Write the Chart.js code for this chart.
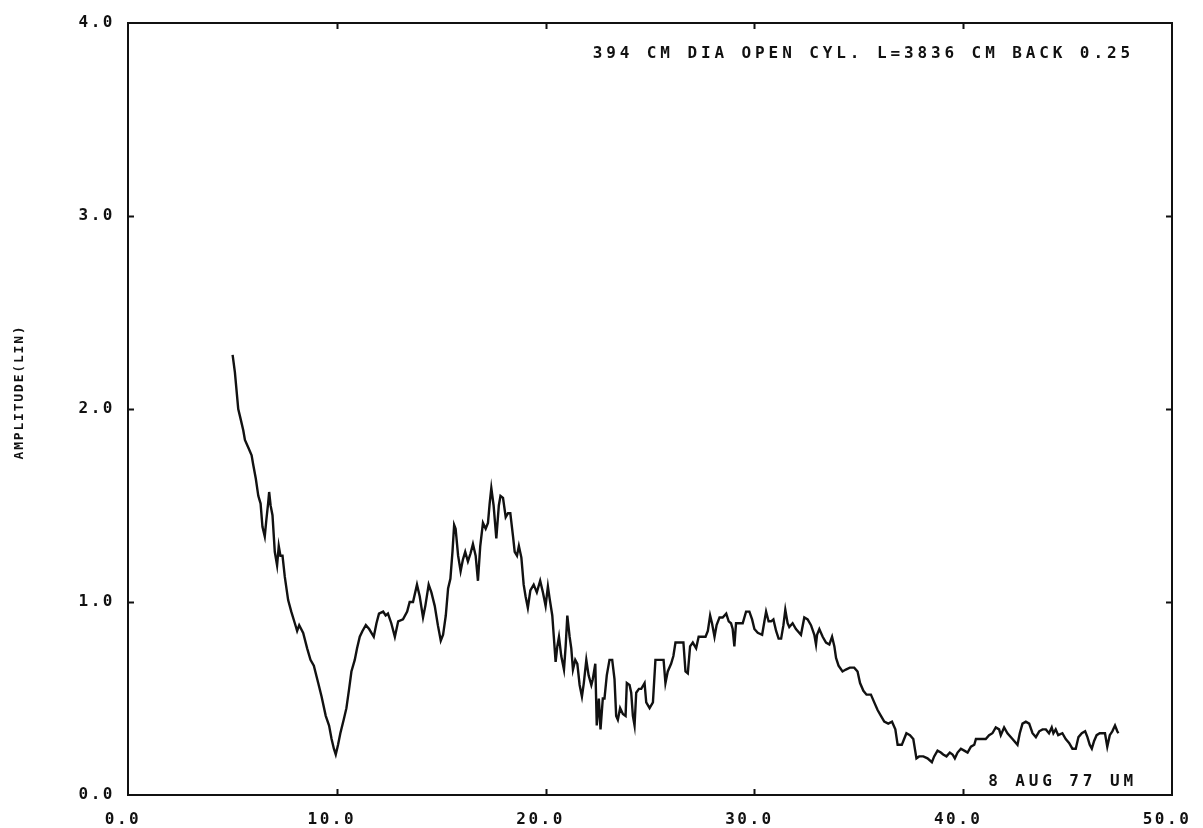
<!DOCTYPE html>
<html>
<head>
<meta charset="utf-8">
<title>Amplitude (lin)</title>
<script src="https://cdn.jsdelivr.net/npm/chart.js@4/dist/chart.umd.min.js"></script>
<style>
  html, body { margin: 0; padding: 0; background: #fff; }
  #wrap { position: relative; width: 1203px; height: 828px; }
</style>
</head>
<body>
<div id="wrap"><canvas id="ampChart"></canvas></div>
<script>
/* global Chart */

// ---------------------------------------------------------------------------
// Data
// ---------------------------------------------------------------------------

const X_TICKS = [0, 10, 20, 30, 40, 50];
const Y_TICKS = [0, 1, 2, 3, 4];

const NOTE_TOP    = '394 CM DIA OPEN CYL. L=3836 CM BACK 0.25';
const NOTE_BOTTOM = '8 AUG 77 UM';
const Y_LABEL     = 'AMPLITUDE(LIN)';

const distance = [
    5.01, 5.12, 5.28, 5.39, 5.52, 5.60, 5.76, 5.92, 6.00, 6.12,
    6.24, 6.35, 6.44, 6.55, 6.63, 6.71, 6.76, 6.83, 6.92, 7.03,
    7.14, 7.22, 7.30, 7.40, 7.51, 7.67, 7.82, 7.99, 8.10, 8.20,
    8.39, 8.58, 8.74, 8.90, 9.11, 9.27, 9.47, 9.63, 9.75, 9.86,
    9.95, 10.06, 10.17, 10.33, 10.46, 10.59, 10.70, 10.86, 10.97, 11.10,
    11.23, 11.39, 11.55, 11.77, 11.90, 12.02, 12.22, 12.34, 12.45, 12.61,
    12.78, 12.94, 13.17, 13.37, 13.49, 13.65, 13.84, 13.97, 14.13, 14.24,
    14.40, 14.53, 14.69, 14.84, 14.98, 15.09, 15.22, 15.33, 15.44, 15.54,
    15.62, 15.69, 15.81, 15.93, 16.04, 16.15, 16.28, 16.40, 16.52, 16.65,
    16.76, 16.87, 17.00, 17.13, 17.24, 17.32, 17.40, 17.51, 17.64, 17.76,
    17.84, 17.96, 18.09, 18.20, 18.31, 18.44, 18.52, 18.63, 18.72, 18.84,
    18.95, 19.04, 19.15, 19.27, 19.43, 19.58, 19.74, 19.87, 20.00, 20.11,
    20.19, 20.32, 20.40, 20.48, 20.56, 20.64, 20.75, 20.88, 20.96, 21.04,
    21.15, 21.23, 21.31, 21.42, 21.52, 21.63, 21.74, 21.83, 21.95, 22.06,
    22.19, 22.26, 22.38, 22.45, 22.55, 22.63, 22.74, 22.82, 22.93, 23.06,
    23.19, 23.30, 23.38, 23.46, 23.57, 23.70, 23.83, 23.89, 24.02, 24.10,
    24.18, 24.26, 24.34, 24.47, 24.58, 24.74, 24.82, 24.98, 25.14, 25.26,
    25.45, 25.65, 25.74, 25.85, 26.01, 26.12, 26.22, 26.41, 26.60, 26.70,
    26.81, 26.92, 27.05, 27.21, 27.33, 27.50, 27.66, 27.77, 27.88, 27.97,
    28.09, 28.19, 28.33, 28.48, 28.65, 28.77, 28.88, 28.96, 29.04, 29.12,
    29.28, 29.44, 29.60, 29.76, 29.89, 30.00, 30.16, 30.37, 30.48, 30.56,
    30.68, 30.80, 30.91, 31.04, 31.16, 31.28, 31.39, 31.48, 31.59, 31.67,
    31.83, 31.99, 32.23, 32.39, 32.55, 32.71, 32.87, 32.95, 33.00, 33.11,
    33.27, 33.43, 33.59, 33.72, 33.83, 33.91, 34.03, 34.22, 34.38, 34.57,
    34.78, 34.94, 35.06, 35.22, 35.37, 35.58, 35.74, 35.90, 36.06, 36.22,
    36.41, 36.59, 36.75, 36.86, 37.06, 37.17, 37.28, 37.45, 37.61, 37.70,
    37.76, 37.89, 38.09, 38.29, 38.50, 38.61, 38.77, 38.93, 39.04, 39.20,
    39.36, 39.49, 39.60, 39.73, 39.89, 40.05, 40.21, 40.37, 40.53, 40.61,
    40.84, 41.08, 41.24, 41.40, 41.56, 41.72, 41.80, 41.96, 42.12, 42.36,
    42.60, 42.71, 42.84, 43.00, 43.16, 43.32, 43.48, 43.64, 43.80, 43.96,
    44.11, 44.24, 44.32, 44.43, 44.55, 44.75, 44.91, 45.07, 45.23, 45.39,
    45.52, 45.68, 45.84, 45.95, 46.06, 46.16, 46.27, 46.39, 46.54, 46.70,
    46.79, 46.90, 47.02, 47.14, 47.27, 47.38, 47.43,
];

const amplitude = [
    2.28, 2.19, 2.00, 1.95, 1.89, 1.84, 1.80, 1.76, 1.71, 1.64,
    1.55, 1.51, 1.39, 1.34, 1.43, 1.51, 1.57, 1.50, 1.45, 1.26,
    1.19, 1.29, 1.24, 1.24, 1.13, 1.01, 0.95, 0.89, 0.85, 0.88,
    0.84, 0.76, 0.70, 0.67, 0.58, 0.51, 0.41, 0.36, 0.29, 0.24,
    0.21, 0.26, 0.32, 0.39, 0.45, 0.55, 0.64, 0.70, 0.76, 0.82,
    0.85, 0.88, 0.86, 0.82, 0.89, 0.94, 0.95, 0.93, 0.94, 0.89,
    0.82, 0.90, 0.91, 0.95, 1.00, 1.00, 1.09, 1.03, 0.92, 0.98,
    1.09, 1.05, 0.98, 0.88, 0.80, 0.83, 0.93, 1.07, 1.12, 1.26,
    1.40, 1.38, 1.24, 1.16, 1.22, 1.26, 1.21, 1.25, 1.30, 1.24,
    1.11, 1.29, 1.41, 1.38, 1.41, 1.51, 1.59, 1.50, 1.33, 1.50,
    1.55, 1.54, 1.44, 1.46, 1.46, 1.34, 1.26, 1.24, 1.29, 1.23,
    1.09, 1.03, 0.97, 1.06, 1.09, 1.05, 1.11, 1.05, 0.98, 1.08,
    1.02, 0.93, 0.81, 0.69, 0.77, 0.82, 0.72, 0.65, 0.77, 0.93,
    0.82, 0.76, 0.65, 0.70, 0.68, 0.57, 0.51, 0.58, 0.70, 0.62,
    0.57, 0.60, 0.68, 0.36, 0.50, 0.34, 0.50, 0.50, 0.62, 0.70,
    0.70, 0.60, 0.41, 0.39, 0.45, 0.42, 0.41, 0.58, 0.57, 0.53,
    0.41, 0.36, 0.53, 0.55, 0.55, 0.58, 0.48, 0.45, 0.48, 0.70,
    0.70, 0.70, 0.58, 0.64, 0.68, 0.72, 0.79, 0.79, 0.79, 0.64,
    0.63, 0.77, 0.79, 0.76, 0.82, 0.82, 0.82, 0.85, 0.93, 0.89,
    0.82, 0.88, 0.92, 0.92, 0.94, 0.90, 0.89, 0.86, 0.77, 0.89,
    0.89, 0.89, 0.95, 0.95, 0.91, 0.86, 0.84, 0.83, 0.90, 0.95,
    0.90, 0.90, 0.91, 0.85, 0.81, 0.81, 0.88, 0.96, 0.89, 0.87,
    0.89, 0.86, 0.83, 0.92, 0.91, 0.88, 0.83, 0.78, 0.83, 0.86,
    0.82, 0.79, 0.78, 0.82, 0.77, 0.71, 0.67, 0.64, 0.65, 0.66,
    0.66, 0.64, 0.58, 0.54, 0.52, 0.52, 0.48, 0.44, 0.41, 0.38,
    0.37, 0.38, 0.34, 0.26, 0.26, 0.29, 0.32, 0.31, 0.29, 0.23,
    0.19, 0.20, 0.20, 0.19, 0.17, 0.20, 0.23, 0.22, 0.21, 0.20,
    0.22, 0.21, 0.19, 0.22, 0.24, 0.23, 0.22, 0.25, 0.26, 0.29,
    0.29, 0.29, 0.31, 0.32, 0.35, 0.34, 0.31, 0.35, 0.32, 0.29,
    0.26, 0.32, 0.37, 0.38, 0.37, 0.32, 0.30, 0.33, 0.34, 0.34,
    0.32, 0.35, 0.32, 0.34, 0.31, 0.32, 0.29, 0.27, 0.24, 0.24,
    0.30, 0.32, 0.33, 0.30, 0.26, 0.24, 0.28, 0.31, 0.32, 0.32,
    0.32, 0.25, 0.31, 0.33, 0.36, 0.33, 0.32,
];

// ---------------------------------------------------------------------------
// Style
// ---------------------------------------------------------------------------

const INK       = '#111';
const MONO      = '"DejaVu Sans Mono", "Liberation Mono", monospace';
const TICK_FONT = { family: MONO, size: 16, weight: 'bold' };

// ---------------------------------------------------------------------------
// Plugins: plotter-style frame with inward ticks, and free text
// ---------------------------------------------------------------------------

const plotterFrame = {
    id: 'plotterFrame',
    beforeDraw(chart) {
        chart.ctx.letterSpacing = '2.5px';
    },
    afterDraw(chart) {
        const { ctx, chartArea: a, scales } = chart;
        const len = 6;
        ctx.save();
        ctx.strokeStyle = INK;
        ctx.lineWidth = 2;
        ctx.strokeRect(a.left, a.top, a.right - a.left, a.bottom - a.top);
        ctx.beginPath();
        X_TICKS.slice(1, -1).forEach(v => {
            const px = Math.round(scales.x.getPixelForValue(v)) + 0.5;
            ctx.moveTo(px, a.bottom); ctx.lineTo(px, a.bottom - len);
            ctx.moveTo(px, a.top);    ctx.lineTo(px, a.top + len);
        });
        Y_TICKS.slice(1, -1).forEach(v => {
            const py = Math.round(scales.y.getPixelForValue(v)) + 0.5;
            ctx.moveTo(a.left, py);  ctx.lineTo(a.left + len, py);
            ctx.moveTo(a.right, py); ctx.lineTo(a.right - len, py);
        });
        ctx.stroke();

        ctx.fillStyle = INK;
        ctx.textBaseline = 'middle';
        ctx.font = `bold 16px ${MONO}`;
        ctx.letterSpacing = '3.9px';
        ctx.textAlign = 'right';
        ctx.fillText(NOTE_TOP, 1134, 54);
        ctx.fillText(NOTE_BOTTOM, 1137, 782);

        ctx.translate(20, 392);
        ctx.rotate(-Math.PI / 2);
        ctx.font = `bold 13px ${MONO}`;
        ctx.letterSpacing = '1.8px';
        ctx.textAlign = 'center';
        ctx.fillText(Y_LABEL, 0, 0);
        ctx.restore();
    },
};

// ---------------------------------------------------------------------------
// Chart
// ---------------------------------------------------------------------------

const points = distance.map((x, i) => ({ x, y: amplitude[i] }));

new Chart(document.getElementById('ampChart').getContext('2d'), {
    type: 'line',
    data: {
        datasets: [{
            data:        points,
            borderColor: INK,
            borderWidth: 2.4,
            pointRadius: 0,
            tension:     0,
            fill:        false,
        }],
    },
    options: {
        responsive:          true,
        maintainAspectRatio: false,
        animation:           false,
        layout:  { padding: { left: 0, top: 23, right: 31, bottom: 0 } },
        plugins: { legend: { display: false }, tooltip: { enabled: false } },
        scales: {
            x: {
                type: 'linear',
                min:  X_TICKS[0],
                max:  X_TICKS[X_TICKS.length - 1],
                grid:   { display: false },
                border: { display: false },
                afterBuildTicks: s => { s.ticks = X_TICKS.map(value => ({ value })); },
                afterFit: s => { s.height = 33; },
                ticks: {
                    color: INK, font: TICK_FONT, padding: 7, maxRotation: 0,
                    labelOffset: -5,
                    callback: v => v.toFixed(1),
                },
            },
            y: {
                type: 'linear',
                min:  Y_TICKS[0],
                max:  Y_TICKS[Y_TICKS.length - 1],
                grid:   { display: false },
                border: { display: false },
                afterBuildTicks: s => { s.ticks = Y_TICKS.map(value => ({ value })); },
                afterFit: s => { s.width = 128; },
                ticks: {
                    color: INK, font: TICK_FONT, padding: 5,
                    callback: v => v.toFixed(1),
                },
            },
        },
    },
    plugins: [plotterFrame],
});
</script>
</body>
</html>
